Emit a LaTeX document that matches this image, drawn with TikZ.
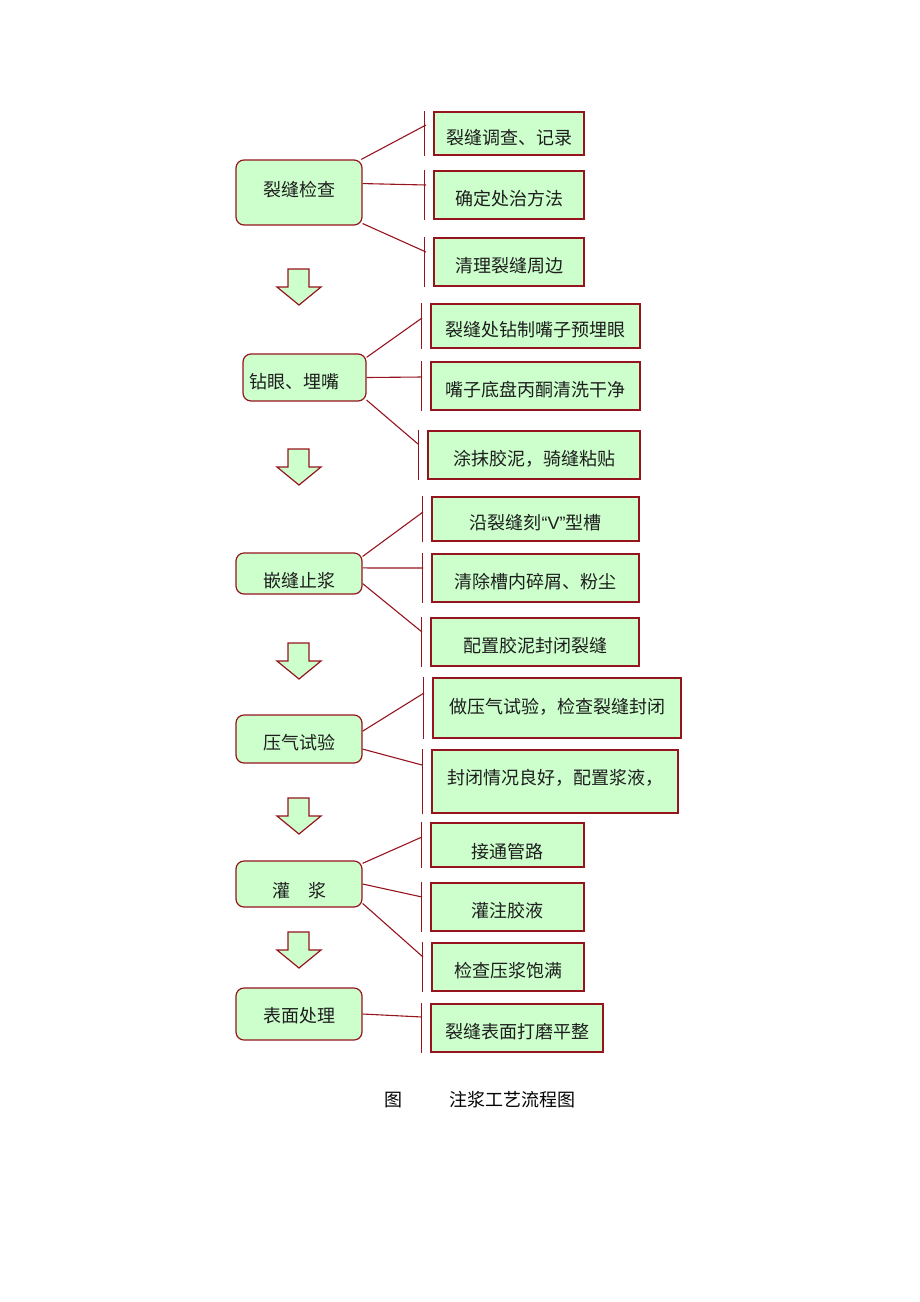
\documentclass[tikz,border=0pt]{standalone}
\usepackage{fontspec}
\setmainfont{Noto Sans CJK SC}
\newfontfamily\latinfont{Liberation Sans}
\usepackage{tikz}
\pgfdeclarelayer{edgelayer}
\pgfdeclarelayer{nodelayer}
\pgfsetlayers{edgelayer,nodelayer,main}
\definecolor{crack}{RGB}{150,20,30}
\definecolor{paste}{RGB}{204,255,204}
\definecolor{ink}{RGB}{30,30,30}
\tikzstyle{none}=[inner sep=0pt]
\tikzstyle{stage}=[rectangle, rounded corners=8pt, draw=crack, fill=paste, line width=1.2pt, text=ink, inner sep=0pt, text height=21.7pt, text depth=0pt, font=\fontsize{18}{20}\selectfont]
\tikzstyle{task}=[rectangle, draw=crack, fill=paste, line width=1.2pt, text=ink, inner sep=0pt, text height=21.7pt, text depth=0pt, font=\fontsize{18}{20}\selectfont]
\tikzstyle{link}=[draw=crack, line width=1.1pt]
\tikzstyle{flow}=[draw=crack, fill=paste, line width=1.2pt]

\begin{document}
\begin{tikzpicture}[x=1pt, y=-1pt]
	\useasboundingbox (0, 0) rectangle (920, 1302);
	\begin{pgfonlayer}{nodelayer}
		\node [style=stage, minimum width=126, minimum height=65, text height=8.7pt] (0) at (299, 192.5) {裂缝检查};
		\node [style=task, minimum width=150, minimum height=43] (1) at (509, 133.5) {裂缝调查、记录};
		\node [style=task, minimum width=150, minimum height=48] (2) at (509, 195) {确定处治方法};
		\node [style=task, minimum width=150, minimum height=48] (3) at (509, 262) {清理裂缝周边};
		\node [style=stage, minimum width=123, minimum height=47, text width=111pt, align=left] (4) at (304.5, 377.5) {钻眼、埋嘴};
		\node [style=task, minimum width=209, minimum height=44] (5) at (535.5, 326) {裂缝处钻制嘴子预埋眼};
		\node [style=task, minimum width=209, minimum height=48] (6) at (535.5, 386) {嘴子底盘丙酮清洗干净};
		\node [style=task, minimum width=212, minimum height=48] (7) at (534, 455) {涂抹胶泥，骑缝粘贴};
		\node [style=stage, minimum width=126, minimum height=41, text height=28.7pt] (8) at (299, 573.5) {嵌缝止浆};
		\node [style=task, minimum width=207, minimum height=44] (9) at (535.5, 519) {沿裂缝刻{\latinfont “V”}型槽};
		\node [style=task, minimum width=207, minimum height=48] (10) at (535.5, 578) {清除槽内碎屑、粉尘};
		\node [style=task, minimum width=208, minimum height=48] (11) at (535, 642) {配置胶泥封闭裂缝};
		\node [style=stage, minimum width=126, minimum height=48] (12) at (299, 739) {压气试验};
		\node [style=task, minimum width=248, minimum height=60, text height=11.7pt] (13) at (557, 708) {做压气试验，检查裂缝封闭};
		\node [style=task, minimum width=246, minimum height=63, text height=6.7pt] (14) at (555, 781.5) {封闭情况良好，配置浆液，};
		\node [style=stage, minimum width=126, minimum height=46, text height=27.7pt] (15) at (299, 884) {灌\hspace{1em}浆};
		\node [style=task, minimum width=153, minimum height=44, text height=27.7pt] (16) at (507.5, 845) {接通管路};
		\node [style=task, minimum width=153, minimum height=48] (17) at (507.5, 907) {灌注胶液};
		\node [style=task, minimum width=152, minimum height=48] (18) at (508, 967) {检查压浆饱满};
		\node [style=stage, minimum width=126, minimum height=52, text height=17.7pt] (19) at (299, 1014) {表面处理};
		\node [style=task, minimum width=172, minimum height=48] (20) at (517, 1028) {裂缝表面打磨平整};
		\node [style=none, font=\fontsize{18}{20}\selectfont] (21) at (479.5, 1100) {图\hspace{47pt}注浆工艺流程图};
		\coordinate (a1) at (426, 125);
		\coordinate (a2) at (426, 185);
		\coordinate (a3) at (426, 252);
		\coordinate (a5) at (422, 318);
		\coordinate (a6) at (422, 377);
		\coordinate (a7) at (418, 444);
		\coordinate (a9) at (423, 512);
		\coordinate (a10) at (423, 568);
		\coordinate (a11) at (422, 632);
		\coordinate (a13) at (424, 693);
		\coordinate (a14) at (422, 765);
		\coordinate (a16) at (422, 837);
		\coordinate (a17) at (422, 897);
		\coordinate (a18) at (423, 957);
		\coordinate (a20) at (422, 1017);
	\end{pgfonlayer}
	\begin{pgfonlayer}{edgelayer}
		% bars in front of the task boxes
		\foreach \n in {1,2,3,5,6,7,9,10,11,13,14,16,17,18,20}
			\draw [style=link] ([xshift=-9pt]\n.north west) to ([xshift=-9pt]\n.south west);
		\draw [style=link] (0.28) to (a1);
		\draw [style=link] (0.8) to (a2);
		\draw [style=link] (0.-26) to (a3);
		\draw [style=link] (4.18) to (a5);
		\draw [style=link] (4.east) to (a6);
		\draw [style=link] (4.-20) to (a7);
		\draw [style=link] (8.15) to (a9);
		\draw [style=link] (8.5) to (a10);
		\draw [style=link] (8.-9) to (a11);
		\draw [style=link] (12.7) to (a13);
		\draw [style=link] (12.-9) to (a14);
		\draw [style=link] (15.18) to (a16);
		\draw [style=link] (15.east) to (a17);
		\draw [style=link] (15.-17) to (a18);
		\draw [style=link] (19.east) to (a20);
	\end{pgfonlayer}
	% down arrows between the stages
	\foreach \t in {269,449,643,798,932}
		\draw [style=flow] (288, \t) -- (309, \t) -- (309, \t+18) -- (321, \t+18) -- (299, \t+36) -- (277, \t+18) -- (288, \t+18) -- cycle;
\end{tikzpicture}
\end{document}
